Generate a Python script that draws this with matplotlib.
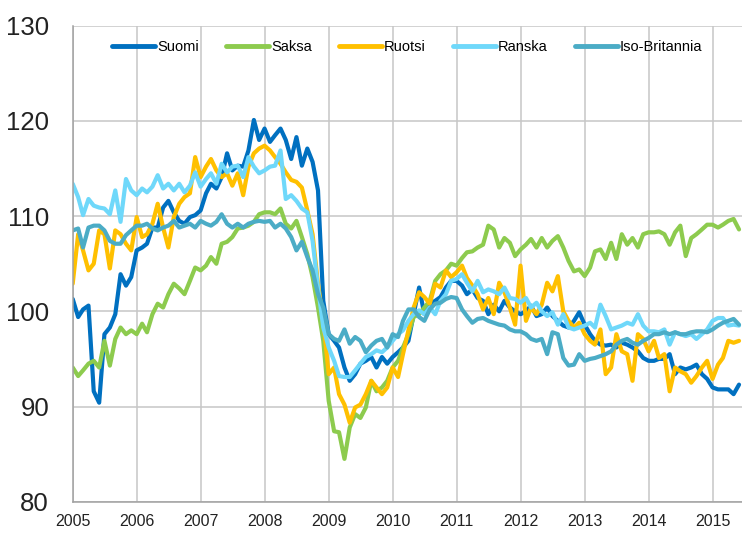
import matplotlib
matplotlib.use("Agg")
import matplotlib.pyplot as plt
import pandas as pd
from matplotlib import font_manager

# ---- data (monthly, Jan 2005 - Jun 2015) ----
start_month = "2005-01"
series_names = ["Suomi", "Saksa", "Ruotsi", "Ranska", "Iso-Britannia"]
colors = ["#0070C0", "#8DCB4E", "#FFC000", "#6FD8FA", "#4BACC6"]

suomi = [101.3, 99.4, 100.2, 100.6, 91.6, 90.4, 97.6, 98.3, 99.7, 103.9, 102.7, 103.6,
         106.4, 106.7, 107.1, 108.8, 108.8, 110.9, 111.6, 110.4, 109.5, 109.2, 109.9, 110.1,
         110.6, 112.4, 113.4, 112.9, 114.1, 116.6, 114.8, 115.3, 115.2, 116.9, 120.1, 118.0,
         119.2, 117.8, 118.5, 119.2, 118.0, 116.0, 118.3, 115.3, 117.1, 115.7, 112.7, 101.1,
         97.6, 96.9, 96.2, 94.1, 92.7, 93.4, 94.5, 94.8, 95.2, 94.1, 95.2, 94.5,
         95.2, 95.7, 96.2, 96.9, 99.7, 102.5, 99.7, 100.8, 101.1, 101.5, 102.5, 103.2,
         103.2, 102.7, 101.8, 102.3, 101.4, 101.1, 99.7, 100.7, 100.0, 101.1, 100.4, 100.0,
         99.7, 100.0, 100.6, 99.5, 99.7, 100.4, 99.5, 99.0, 98.5, 98.3, 99.0, 99.9,
         98.6, 97.6, 96.9, 96.5, 96.4, 96.5, 96.2, 96.7, 96.5, 96.2, 95.8, 95.1,
         94.8, 94.8, 95.0, 95.0, 95.5, 93.4, 94.1, 93.9, 94.1, 94.4, 93.4, 92.9,
         92.0, 91.8, 91.8, 91.8, 91.3, 92.3]

saksa = [94.1, 93.2, 93.8, 94.5, 94.8, 94.1, 96.9, 94.3, 97.1, 98.3, 97.6, 98.0,
         97.6, 98.7, 97.8, 99.7, 100.8, 100.4, 101.8, 102.9, 102.4, 101.8, 103.2, 104.6,
         104.3, 104.8, 105.7, 105.0, 107.1, 107.3, 107.8, 108.7, 108.8, 109.0, 109.4, 110.2,
         110.4, 110.4, 110.2, 110.8, 109.2, 108.7, 109.5, 107.8, 106.0, 103.6, 100.4, 96.9,
         90.6, 87.4, 87.3, 84.5, 87.8, 89.2, 88.8, 89.9, 92.7, 91.6, 92.0, 92.7,
         94.1, 94.8, 96.2, 97.6, 99.4, 99.7, 100.4, 101.1, 103.2, 103.9, 104.3, 105.0,
         104.8, 105.6, 106.2, 106.3, 106.7, 107.0, 109.0, 108.6, 106.7, 107.7, 107.2, 105.8,
         106.5, 107.0, 107.6, 106.7, 107.7, 106.7, 107.4, 107.9, 106.7, 105.3, 104.2, 104.4,
         103.7, 104.6, 106.3, 106.5, 105.5, 107.2, 105.5, 108.1, 107.0, 107.7, 106.7, 108.1,
         108.3, 108.3, 108.4, 108.1, 107.0, 108.3, 109.0, 105.8, 107.7, 108.1, 108.6, 109.1,
         109.1, 108.8, 109.1, 109.5, 109.7, 108.6]

ruotsi = [102.9, 108.1, 106.4, 104.3, 105.0, 108.5, 108.1, 104.5, 108.5, 108.1, 107.1, 106.4,
          109.9, 107.8, 108.1, 109.2, 111.3, 108.8, 106.7, 109.9, 111.3, 112.0, 112.4, 116.2,
          114.1, 115.2, 116.0, 114.8, 114.1, 114.5, 113.2, 114.5, 112.2, 115.2, 116.6, 117.1,
          117.4, 116.9, 116.2, 115.5, 114.6, 113.8, 113.6, 113.0, 110.6, 108.1, 102.9, 99.0,
          93.4, 94.1, 91.3, 90.2, 88.3, 89.9, 90.2, 91.3, 92.7, 92.0, 91.3, 92.0,
          94.1, 93.1, 95.5, 98.0, 100.4, 102.0, 101.5, 100.8, 102.9, 102.5, 104.3, 103.6,
          104.1, 104.8, 103.5, 102.7, 101.8, 100.2, 101.4, 99.7, 103.0, 102.0, 100.4, 98.6,
          104.8, 99.0, 100.4, 99.7, 100.7, 103.0, 102.1, 103.7, 100.0, 99.0, 98.3, 98.8,
          97.6, 96.9, 96.5, 98.1, 93.4, 94.1, 97.6, 95.8, 95.5, 92.7, 97.6, 97.1,
          95.8, 96.9, 95.1, 95.5, 91.6, 94.1, 93.7, 93.4, 92.5, 93.2, 94.1, 94.8,
          92.9, 94.4, 95.1, 96.9, 96.7, 96.9]

ranska = [113.4, 112.0, 110.1, 111.8, 111.1, 110.9, 110.8, 110.2, 112.7, 109.4, 113.9, 112.7,
          112.2, 112.9, 112.5, 113.1, 114.3, 112.9, 113.4, 112.7, 113.4, 112.5, 113.2, 114.6,
          113.1, 113.9, 114.5, 113.4, 115.5, 114.6, 115.2, 115.3, 114.1, 116.2, 115.2, 114.5,
          114.8, 115.2, 115.3, 116.9, 111.8, 112.2, 111.6, 110.8, 110.4, 107.4, 102.5, 98.3,
          96.2, 94.8, 93.2, 93.1, 93.1, 93.8, 94.5, 95.2, 95.5, 95.9, 95.7, 96.2,
          96.9, 97.6, 98.0, 99.0, 99.7, 100.1, 99.7, 100.4, 99.7, 101.1, 101.8, 103.2,
          103.4, 103.9, 103.0, 102.1, 103.2, 102.0, 102.3, 102.1, 101.8, 102.5, 101.4, 101.3,
          100.9, 101.4, 100.4, 100.9, 100.0, 99.5, 99.9, 98.6, 99.7, 98.3, 98.1, 98.3,
          98.5, 98.8, 98.3, 100.7, 99.5, 98.1, 98.3, 98.5, 98.8, 98.6, 99.7, 98.5,
          97.9, 97.9, 97.8, 98.1, 96.5, 97.8, 97.6, 97.4, 97.6, 97.1, 97.6, 98.1,
          99.0, 99.3, 99.3, 98.5, 98.6, 98.5]

iso_britannia = [108.5, 108.7, 106.7, 108.8, 109.0, 109.0, 108.5, 107.4, 107.1, 107.1, 108.0, 108.5,
                 109.0, 109.0, 109.2, 108.7, 108.5, 108.8, 109.0, 109.5, 108.8, 109.0, 109.2, 108.8,
                 109.5, 109.2, 109.0, 109.4, 110.2, 109.2, 108.8, 109.2, 108.8, 109.2, 109.4, 109.5,
                 109.4, 109.5, 108.8, 109.2, 108.7, 107.8, 106.4, 107.3, 105.7, 104.3, 101.8, 100.4,
                 97.6, 97.1, 96.9, 98.1, 96.6, 97.3, 96.9, 95.7, 96.4, 96.9, 97.1, 96.2,
                 97.6, 97.3, 99.0, 100.2, 100.2, 99.4, 99.0, 100.2, 100.8, 100.9, 101.3, 101.5,
                 101.4, 100.2, 99.5, 98.8, 99.2, 99.3, 99.0, 98.8, 98.6, 98.5, 98.1, 97.9,
                 97.9, 97.6, 97.1, 96.9, 97.1, 95.5, 97.8, 97.6, 95.1, 94.3, 94.4, 95.5,
                 94.8, 95.0, 95.1, 95.3, 95.5, 95.8, 96.5, 96.9, 97.1, 96.7, 96.5, 96.9,
                 97.2, 97.6, 97.6, 97.8, 97.6, 97.8, 97.6, 97.6, 97.8, 97.9, 97.9, 97.8,
                 98.1, 98.5, 98.8, 99.0, 99.2, 98.6]

year_ticks = list(range(2005, 2016))
y_ticks = [80, 90, 100, 110, 120, 130]

# ---- fonts ----
avail = {f.name for f in font_manager.fontManager.ttflist}
fam = [f for f in ["Liberation Sans Narrow", "Liberation Sans", "DejaVu Sans"] if f in avail]
plt.rcParams["font.family"] = fam

all_series = [suomi, saksa, ruotsi, ranska, iso_britannia]
dates = pd.date_range(start_month, periods=len(suomi), freq="MS")

fig = plt.figure(figsize=(7.42, 5.33), dpi=100)
ax = fig.add_axes([0.098, 0.0587, 0.902, 0.893])

for name, vals, c in zip(series_names, all_series, colors):
    ax.plot(dates, vals, color=c, lw=3.0, label=name, solid_joinstyle="round",
            solid_capstyle="round")

ax.set_ylim(80, 130)
ax.set_yticks(y_ticks)
ax.set_xlim(pd.Timestamp("2005-01-01"), pd.Timestamp("2015-06-18"))
ax.set_xticks([pd.Timestamp(f"{y}-01-01") for y in year_ticks])
ax.set_xticklabels([str(y) for y in year_ticks])

ax.grid(True, color="#c6c6c6", lw=1.1)
ax.set_axisbelow(True)
for s in ["top", "right"]:
    ax.spines[s].set_visible(False)
for s in ["left", "bottom"]:
    ax.spines[s].set_color("#a0a0a0")
    ax.spines[s].set_linewidth(1.1)

ax.tick_params(axis="y", length=0, pad=17, labelsize=18.5, colors="#222222")
ax.tick_params(axis="x", length=0, pad=9, labelsize=11.5, colors="#222222")

leg = ax.legend(loc="upper center", bbox_to_anchor=(0.5, 0.995), ncol=5, frameon=False,
                fontsize=10.5, handlelength=2.9, handletextpad=0.15, columnspacing=1.9,
                borderpad=0.3)
for line in leg.get_lines():
    line.set_linewidth(3.5)

fig.savefig("out.png", dpi=100, facecolor="white")
